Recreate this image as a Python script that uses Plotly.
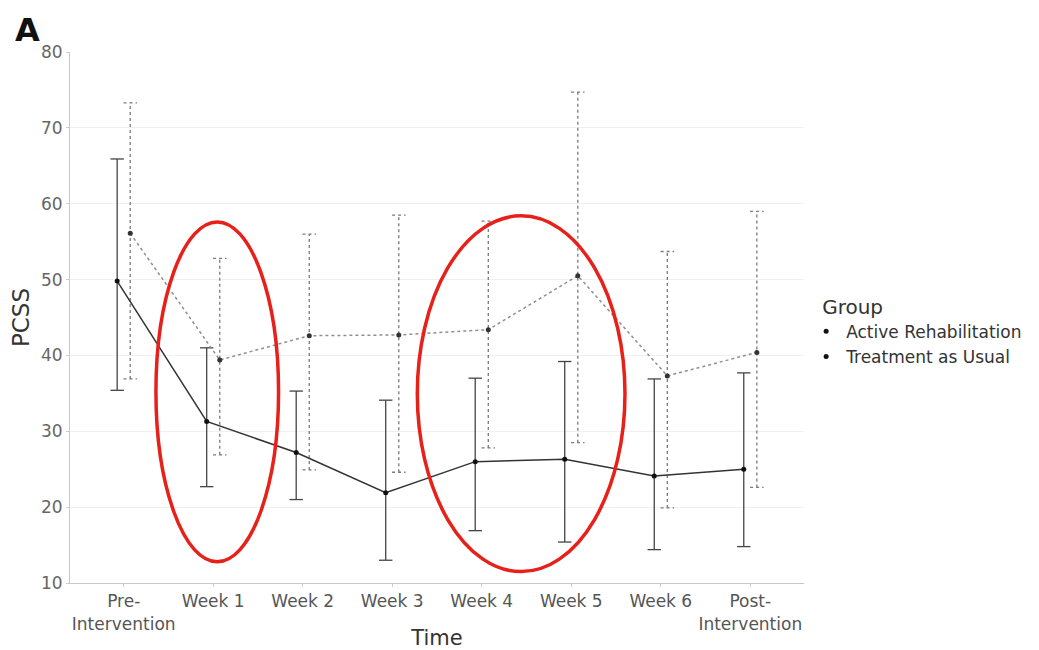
import plotly.graph_objects as go

# ---- data ----
time_labels = ["Pre-<br>Intervention", "Week 1", "Week 2", "Week 3", "Week 4",
               "Week 5", "Week 6", "Post-<br>Intervention"]
groups = ["Active Rehabilitation", "Treatment as Usual"]

active_mean = [49.8, 31.3, 27.2, 21.9, 26.0, 26.3, 24.1, 25.0]
active_upper = [65.9, 41.0, 35.3, 34.1, 37.0, 39.2, 36.9, 37.7]
active_lower = [35.4, 22.7, 21.0, 13.0, 16.9, 15.4, 14.4, 14.8]

tau_mean = [56.1, 39.4, 42.6, 42.7, 43.4, 50.5, 37.3, 40.4]
tau_upper = [73.3, 52.8, 56.0, 58.5, 57.7, 74.7, 53.7, 59.0]
tau_lower = [36.9, 26.9, 24.9, 24.6, 27.8, 28.5, 19.9, 22.6]

y_ticks = [10, 20, 30, 40, 50, 60, 70, 80]

# highlight ellipses (x in category units, y in PCSS units)
ellipse_x0 = [0.36, 3.28]
ellipse_x1 = [1.73, 5.60]
ellipse_y0 = [12.8, 11.5]
ellipse_y1 = [57.6, 58.4]

# ---- style ----
dodge = 0.073
cap = 0.075
FONT = "DejaVu Sans"


def err_segments(xs, lo, hi):
    ex, ey = [], []
    for x, l, h in zip(xs, lo, hi):
        ex += [x, x, None, x - cap, x + cap, None, x - cap, x + cap, None]
        ey += [l, h, None, h, h, None, l, l, None]
    return ex, ey


idx = list(range(len(time_labels)))
xa = [i - dodge for i in idx]
xt = [i + dodge for i in idx]

fig = go.Figure()

# error bars
ex, ey = err_segments(xt, tau_lower, tau_upper)
fig.add_trace(go.Scatter(x=ex, y=ey, mode="lines", showlegend=False, hoverinfo="skip",
                         line=dict(color="#7a7a7a", width=1.3, dash="3px,3px")))
ex, ey = err_segments(xa, active_lower, active_upper)
fig.add_trace(go.Scatter(x=ex, y=ey, mode="lines", showlegend=False, hoverinfo="skip",
                         line=dict(color="#444444", width=1.3)))

# mean lines
fig.add_trace(go.Scatter(x=xt, y=tau_mean, mode="lines+markers", showlegend=False,
                         line=dict(color="#8f8f8f", width=1.5, dash="3px,3px"),
                         marker=dict(color="#333333", size=5), name=groups[1]))
fig.add_trace(go.Scatter(x=xa, y=active_mean, mode="lines+markers", showlegend=False,
                         line=dict(color="#333333", width=1.5),
                         marker=dict(color="#111111", size=5), name=groups[0]))

# legend entries
for g in groups:
    fig.add_trace(go.Scatter(x=[None], y=[None], mode="markers", name=g,
                             marker=dict(color="#111111", size=5)))

for x0, x1, y0, y1 in zip(ellipse_x0, ellipse_x1, ellipse_y0, ellipse_y1):
    fig.add_shape(type="circle", xref="x", yref="y", x0=x0, x1=x1, y0=y0, y1=y1,
                  line=dict(color="#e8201a", width=3.5), layer="above")

fig.add_annotation(text="<b>A</b>", xref="paper", yref="paper", x=-0.078, y=1.002,
                   xanchor="left", yanchor="bottom", showarrow=False,
                   font=dict(size=32, color="#111111", family=FONT))

fig.update_layout(
    width=1039, height=650,
    margin=dict(l=70, r=235, t=52, b=67),
    paper_bgcolor="white", plot_bgcolor="white",
    font=dict(family=FONT, color="#444444"),
    legend=dict(x=1.022, y=0.556, xanchor="left", yanchor="top",
                title=dict(text="Group", font=dict(size=20, color="#333333")),
                font=dict(size=17, color="#333333"), itemwidth=30, indentation=-14,
                tracegroupgap=0, bgcolor="rgba(0,0,0,0)"),
)
fig.update_xaxes(range=[-0.6, 7.6], tickvals=idx, ticktext=time_labels,
                 showgrid=False, zeroline=False, showline=True, linecolor="#c8c8c8",
                 linewidth=1, ticks="outside", ticklen=3, tickcolor="#cccccc",
                 tickfont=dict(size=17, color="#555555"), automargin=False,
                 title=dict(text="Time", font=dict(size=21, color="#333333"), standoff=2))
fig.update_yaxes(range=[10, 80], tickvals=y_ticks, showgrid=True, gridcolor="#f0f0f0",
                 zeroline=False, showline=True, linecolor="#c8c8c8", linewidth=1,
                 ticks="outside", ticklen=3, tickcolor="#cccccc",
                 tickfont=dict(size=17, color="#666666"), automargin=False,
                 title=dict(text="PCSS", font=dict(size=23, color="#333333"), standoff=4))

fig.write_html("out.html")
